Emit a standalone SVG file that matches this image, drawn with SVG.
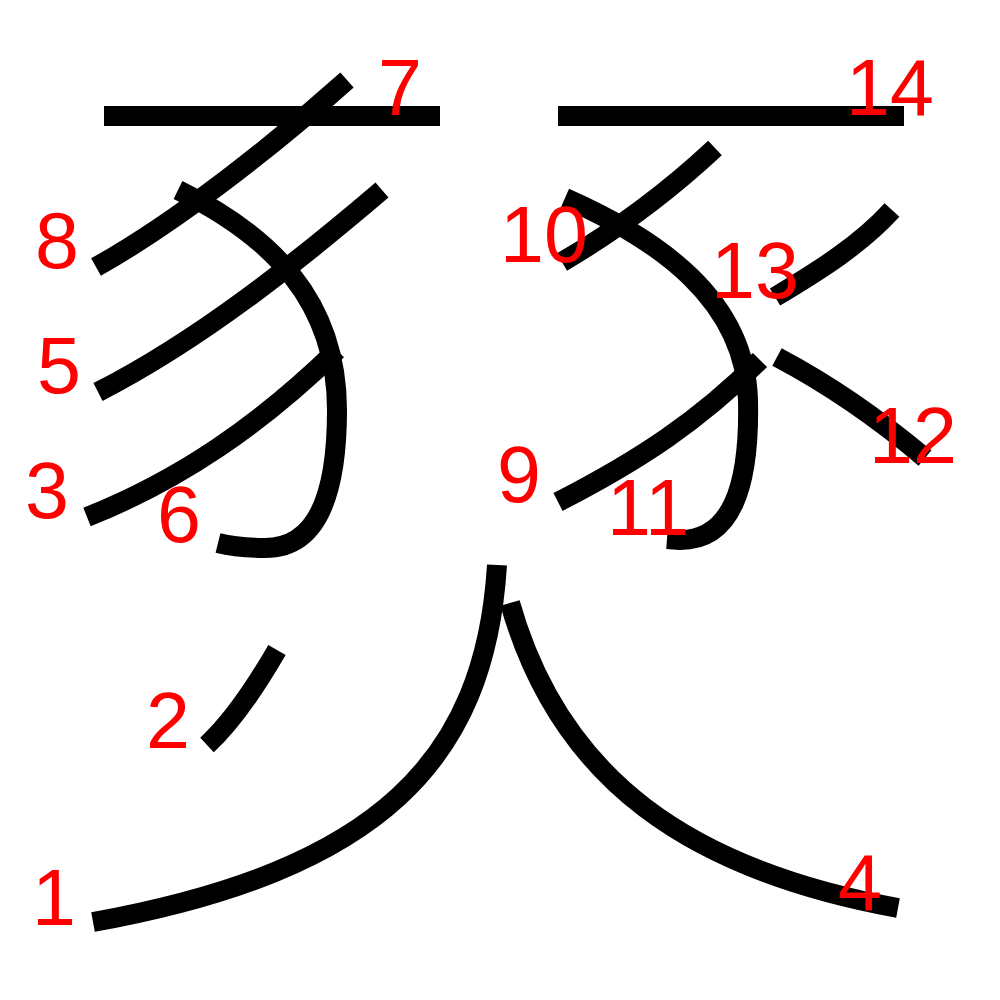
<svg xmlns="http://www.w3.org/2000/svg" width="1000" height="1000" viewBox="0 0 1000 1000">
<style>
.s{fill:none;stroke:#000;stroke-width:20;stroke-linecap:butt;stroke-linejoin:round}
.n{fill:#f00;font-family:"Liberation Sans",Arial,sans-serif;font-size:79px}
</style>
<rect width="1000" height="1000" fill="#fff"/>
<g id="strokes">
<path id="s1" class="s" d="M497,565 C485,760 380,870 93,922"/>
<path id="s2" class="s" d="M277,650 C255,688 232,722 207,745"/>
<path id="s3" class="s" d="M337,350 C260,425 180,480 87,517"/>
<path id="s4" class="s" d="M510,603 C560,780 690,870 898,908"/>
<path id="s5" class="s" d="M382,190 C300,260 200,340 98,392"/>
<path id="s6" class="s" d="M178,190 C270,235 337,300 337,410 C337,500 315,548 265,548 C245,548 230,546 218,543"/>
<path id="s7" class="s" d="M104,116 L440,116"/>
<path id="s8" class="s" d="M347,80 C280,140 180,220 96,267"/>
<path id="s9" class="s" d="M760,360 C700,420 640,460 558,502"/>
<path id="s10" class="s" d="M715,148 C670,190 620,228 562,262"/>
<path id="s11" class="s" d="M565,198 C660,240 745,300 748,400 C750,490 730,540 680,540 L667,539"/>
<path id="s12" class="s" d="M777,357 C830,385 880,420 925,458"/>
<path id="s13" class="s" d="M892,210 C860,245 820,270 775,297"/>
<path id="s14" class="s" d="M558,116 L904,116"/>
</g>
<g id="labels">
<text class="n" x="32" y="925">1</text>
<text class="n" x="146" y="748">2</text>
<text class="n" x="25" y="518">3</text>
<text class="n" x="838" y="910">4</text>
<text class="n" x="37" y="393">5</text>
<text class="n" x="157" y="542">6</text>
<text class="n" x="378" y="115">7</text>
<text class="n" x="35" y="268">8</text>
<text class="n" x="497" y="502">9</text>
<text class="n" x="500" y="262">10</text>
<text class="n" x="607" y="535">11</text>
<text class="n" x="869" y="463">12</text>
<text class="n" x="711" y="298">13</text>
<text class="n" x="846" y="115">14</text>
</g>
</svg>
